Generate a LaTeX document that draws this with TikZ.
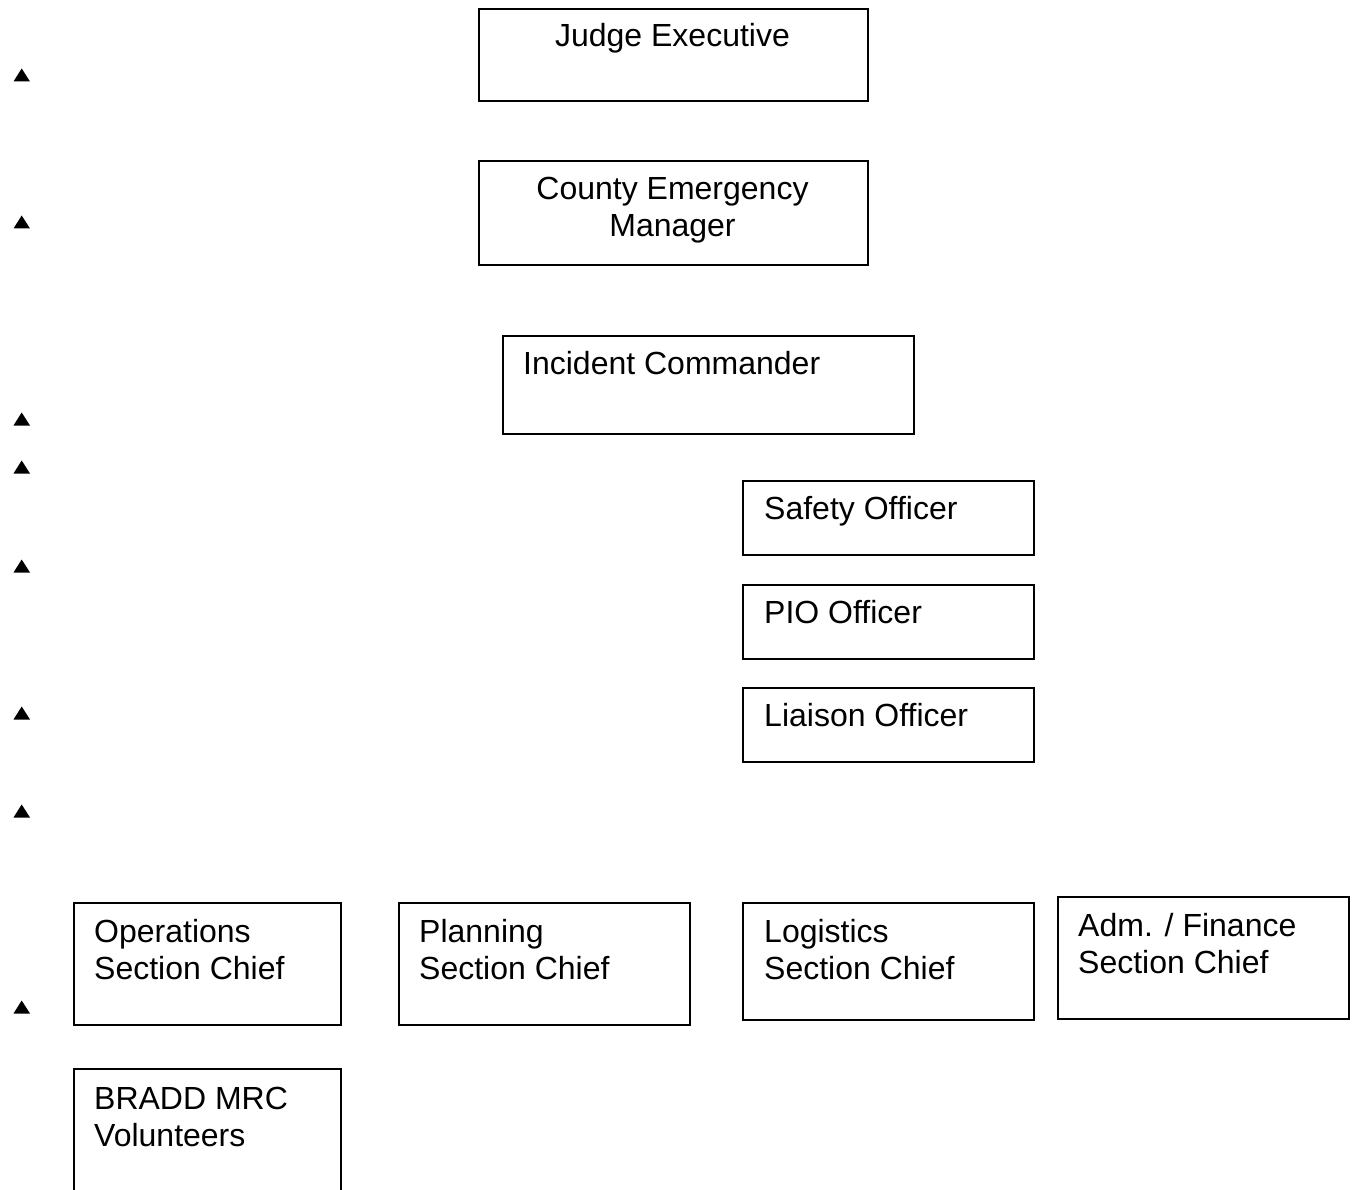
\documentclass[tikz,border=0pt]{standalone}
\usepackage{fontspec}
\setmainfont{Liberation Sans}
\begin{document}
\begin{tikzpicture}[x=1pt,y=-1pt,
  box/.style={draw=black, line width=2pt, rectangle, inner sep=0pt, anchor=north west},
  lbl/.style={font=\fontsize{32}{37}\selectfont, inner sep=0pt, align=left, anchor=base west},
  clbl/.style={font=\fontsize{32}{37}\selectfont, inner sep=0pt, align=center, anchor=base},
  tri/.style={fill=black}]
\clip (0,0) rectangle (1354,1190);
\fill[white] (0,0) rectangle (1354,1190);

% boxes
\node[box, minimum width=389pt, minimum height=92pt] (je) at (478,8) {};
\node[box, minimum width=389pt, minimum height=104pt] (cem) at (478,160) {};
\node[box, minimum width=411pt, minimum height=98pt] (ic) at (502,335) {};
\node[box, minimum width=291pt, minimum height=74pt] (so) at (742,480) {};
\node[box, minimum width=291pt, minimum height=74pt] (pio) at (742,584) {};
\node[box, minimum width=291pt, minimum height=74pt] (lo) at (742,687) {};
\node[box, minimum width=267pt, minimum height=122pt] (ops) at (73,902) {};
\node[box, minimum width=291pt, minimum height=122pt] (plan) at (398,902) {};
\node[box, minimum width=291pt, minimum height=117pt] (log) at (742,902) {};
\node[box, minimum width=291pt, minimum height=122pt] (adm) at (1057,896) {};
\node[box, minimum width=267pt, minimum height=160pt] (mrc) at (73,1068) {};

% labels (base anchor of two-line labels = baseline of the last line)
\node[clbl] (tje) at (672.5,47) {Judge Executive};
\node[clbl] (tcem) at (672.5,237) {County Emergency\\Manager};
\node[lbl] (tic) at (523,374) {Incident Commander};
\node[lbl] (tso) at (764,519) {Safety Officer};
\node[lbl] (tpio) at (764,623) {PIO Officer};
\node[lbl] (tlo) at (764,726) {Liaison Officer};
\node[lbl] (tops) at (94,979) {Operations\\Section Chief};
\node[lbl] (tplan) at (419,979) {Planning\\Section Chief};
\node[lbl] (tlog) at (764,979) {Logistics\\Section Chief};
\node[lbl] (tadm) at (1078,973) {Adm. / Finance\\Section Chief};
\node[lbl] (tmrc) at (94,1146) {BRADD MRC\\Volunteers};

% small triangles at left margin
\foreach \yy in {75,222,419,467,566,713,811,1007}{
  \fill[tri] (13.5,\yy+6.5) -- (30,\yy+6.5) -- (21.7,\yy-6.5) -- cycle;
}
\end{tikzpicture}
\end{document}
